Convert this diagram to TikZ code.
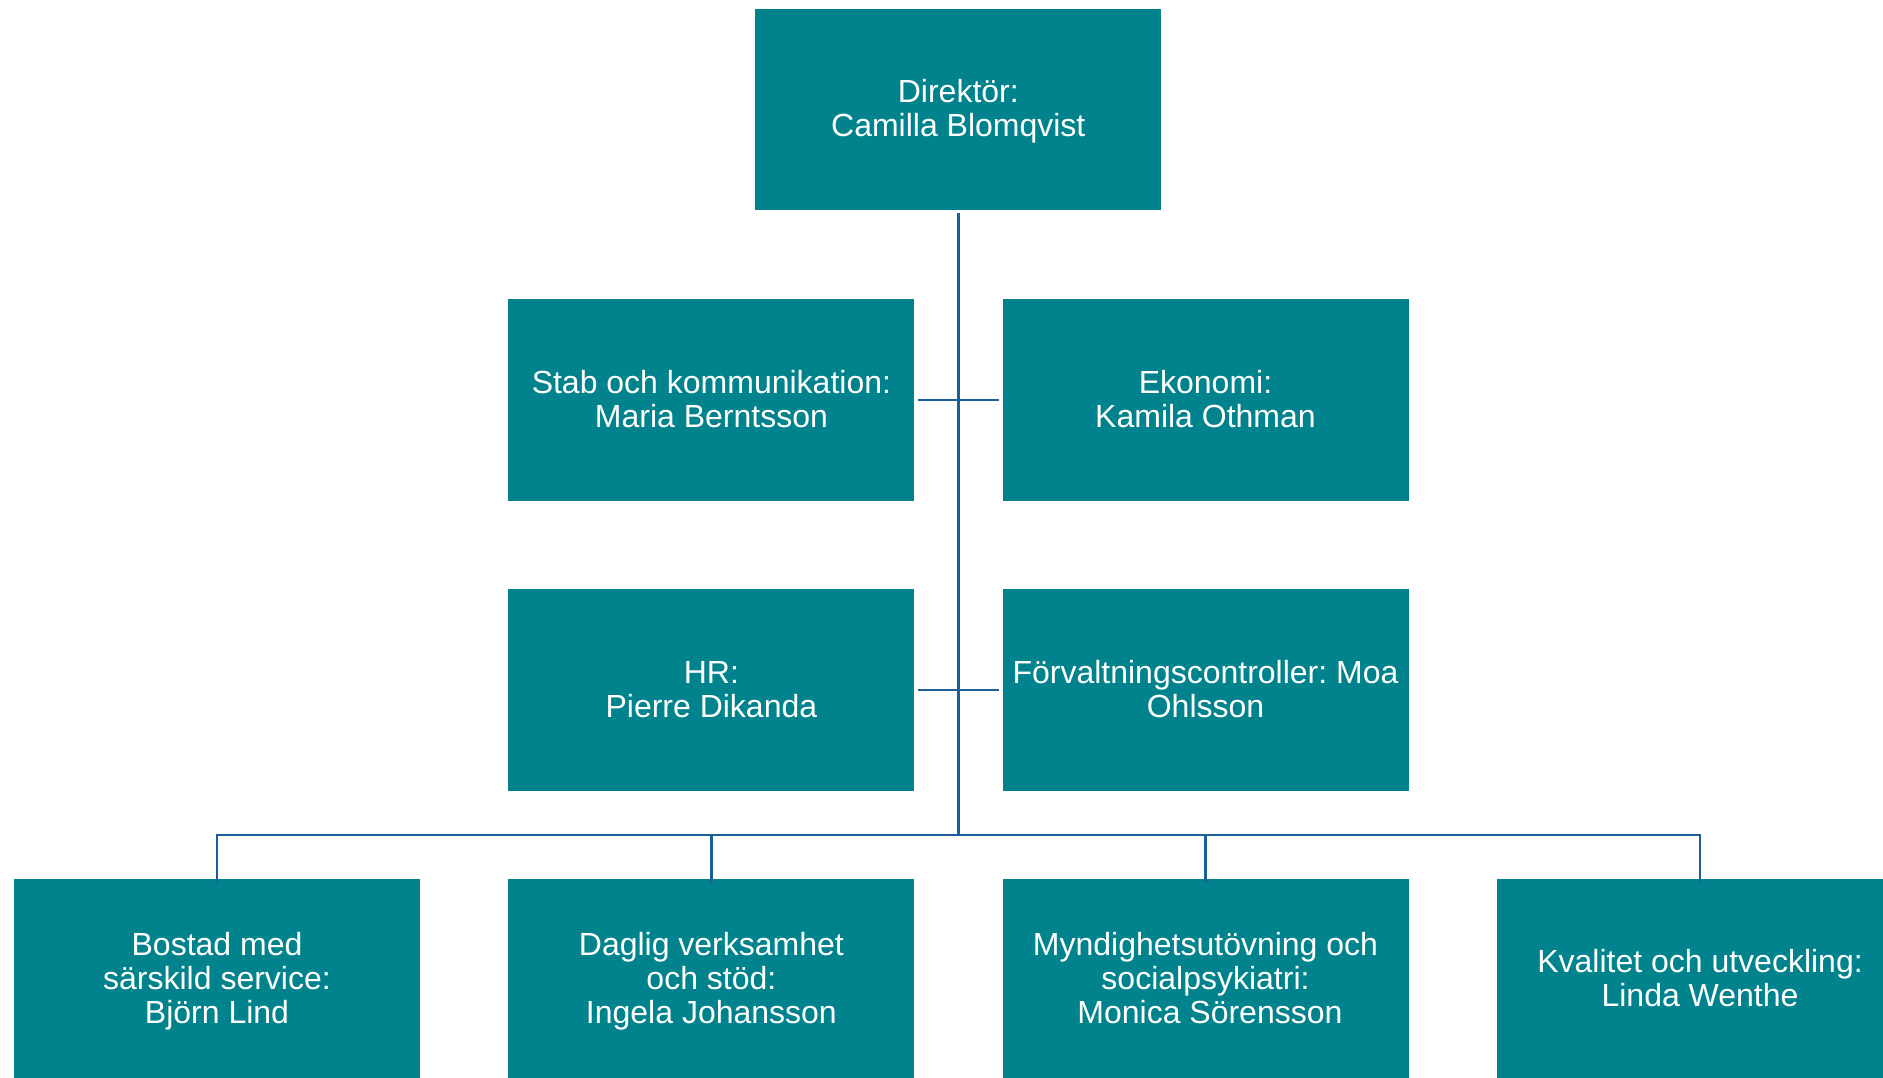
\documentclass[tikz,border=0pt]{standalone}
\usepackage{fontspec}
\setmainfont{Liberation Sans}
\frenchspacing
\definecolor{boxteal}{HTML}{00838D}
\definecolor{linkblue}{HTML}{1D5E99}
\begin{document}
\begin{tikzpicture}[x=1pt,y=-1pt,
  orgbox/.style={fill=boxteal, text=white, minimum width=406pt, minimum height=201.5pt,
    inner sep=0pt, align=center, font=\fontsize{32pt}{34pt}\selectfont,
    text height=54pt, text depth=0pt},
  orgbox3/.style={orgbox, text height=88pt},
  link/.style={draw=linkblue, line width=2.6pt}]
\useasboundingbox (0,0) rectangle (1883,1077);
\node[orgbox] (dir) at (958.3,109.5) {Direktör:\\Camilla Blomqvist};
\node[orgbox] (stab) at (711.4,400) {Stab och kommunikation:\\Maria Berntsson};
\node[orgbox] (eko) at (1205.5,400) {Ekonomi:\\Kamila Othman};
\node[orgbox] (hr) at (711.4,690) {HR:\\Pierre Dikanda};
\node[orgbox] (forv) at (1205.5,690) {Förvaltningscontroller: Moa\\Ohlsson};
\node[orgbox3] (bost) at (217,979.5) {Bostad med\\särskild service:\\Björn Lind};
\node[orgbox3] (dagl) at (711.4,979.5) {Daglig verksamhet\\och stöd:\\Ingela Johansson};
\node[orgbox3] (mynd) at (1205.5,979.5) {Myndighetsutövning och\\socialpsykiatri:\\\hspace*{0.278em}Monica Sörensson};
\node[orgbox] (kval) at (1700,979.5) {Kvalitet och utveckling:\\Linda Wenthe};
\coordinate (bus) at (958.3,835);
% trunk
\draw[link] ([yshift=-3pt]dir.south) -- (bus);
% staff connectors
\draw[link] ([xshift=3pt]stab.east) -- ([xshift=-3pt]eko.west);
\draw[link] ([xshift=3pt]hr.east) -- ([xshift=-3pt]forv.west);
% bus and drops
\draw[link] ([yshift=-3pt]bost.north) |- (bus) -| ([yshift=-3pt]kval.north);
\draw[link] ([yshift=-3pt]dagl.north) -- (dagl.north |- bus);
\draw[link] ([yshift=-3pt]mynd.north) -- (mynd.north |- bus);
\end{tikzpicture}
\end{document}
